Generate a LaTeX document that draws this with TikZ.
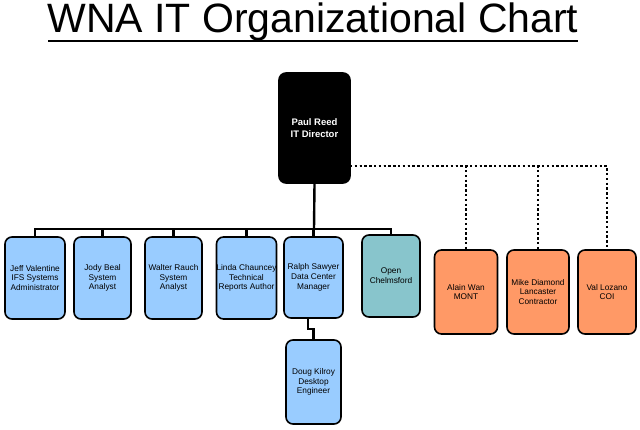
\documentclass[tikz,border=0pt]{standalone}
\usepackage{fontspec}
\setmainfont{Liberation Sans}
\begin{document}
\begin{tikzpicture}[x=1pt,y=-1pt,
  box/.style={draw=black,line width=1.6pt,rounded corners=7pt,align=center,inner sep=0pt,font=\fontsize{8.3}{9.8}\selectfont},
  link/.style={line width=2.4pt},
  dot/.style={line width=2.4pt,dash pattern=on 2.4pt off 2.4pt}]
\definecolor{lb}{HTML}{99CCFF}
\definecolor{tl}{HTML}{88C5CC}
\definecolor{og}{HTML}{FF9966}
\tikzset{blue/.style={box,fill=lb},teal/.style={box,fill=tl},orng/.style={box,fill=og}}
\useasboundingbox (0,0) rectangle (640,430);
\node (title) at (313,22) {\fontsize{41}{45}\selectfont WNA IT Organizational Chart};
\draw[line width=1.8pt] (48,41) -- (578,41);
\node[box,fill=black,text=white,font=\fontsize{9.5}{12}\selectfont\bfseries,minimum width=71pt,minimum height=110pt] (dir) at (314.5,128) {Paul Reed\\IT Director};
\node[blue,minimum width=60pt,minimum height=82pt] (c1) at (35,278) {Jeff Valentine\\IFS Systems\\Administrator};
\node[blue,minimum width=57pt,minimum height=82pt] (c2) at (102.5,278) {Jody Beal\\System\\Analyst};
\node[blue,minimum width=57pt,minimum height=82pt] (c3) at (173.5,278) {Walter Rauch\\System\\Analyst};
\node[blue,minimum width=57pt,minimum height=82pt] (c4) at (246.5,278) {Linda Chauncey\\Technical\\Reports Author};
\node[blue,minimum width=59pt,minimum height=81pt] (c5) at (313.5,277.5) {Ralph Sawyer\\Data Center\\Manager};
\node[teal,minimum width=58pt,minimum height=82pt] (c6) at (391,276) {Open\\Chelmsford};
\node[orng,minimum width=63pt,minimum height=84pt] (o1) at (466,292) {Alain Wan\\MONT};
\node[orng,minimum width=62pt,minimum height=84pt] (o2) at (538,292) {Mike Diamond\\Lancaster\\Contractor};
\node[orng,minimum width=58pt,minimum height=84pt] (o3) at (607,292) {Val Lozano\\COI};
\node[blue,minimum width=55pt,minimum height=84pt] (d1) at (313.5,382) {Doug Kilroy\\Desktop\\Engineer};
\coordinate (bus) at (314,229);
\draw[link] (dir.south) -- (bus);
\foreach \c in {c1,c2,c3,c4,c5,c6} \draw[link] (bus) -| (\c.north);
\draw[link] (c1.north |- bus) -- (c6.north |- bus);
\draw[link] (c5.south -| 308,0) -- (308,329) -- (313.5,329) -- (d1.north);
\coordinate (dr) at (350,166);
\foreach \o in {o1,o2,o3} \draw[dot] (dr) -| (\o.north);
\end{tikzpicture}
\end{document}
